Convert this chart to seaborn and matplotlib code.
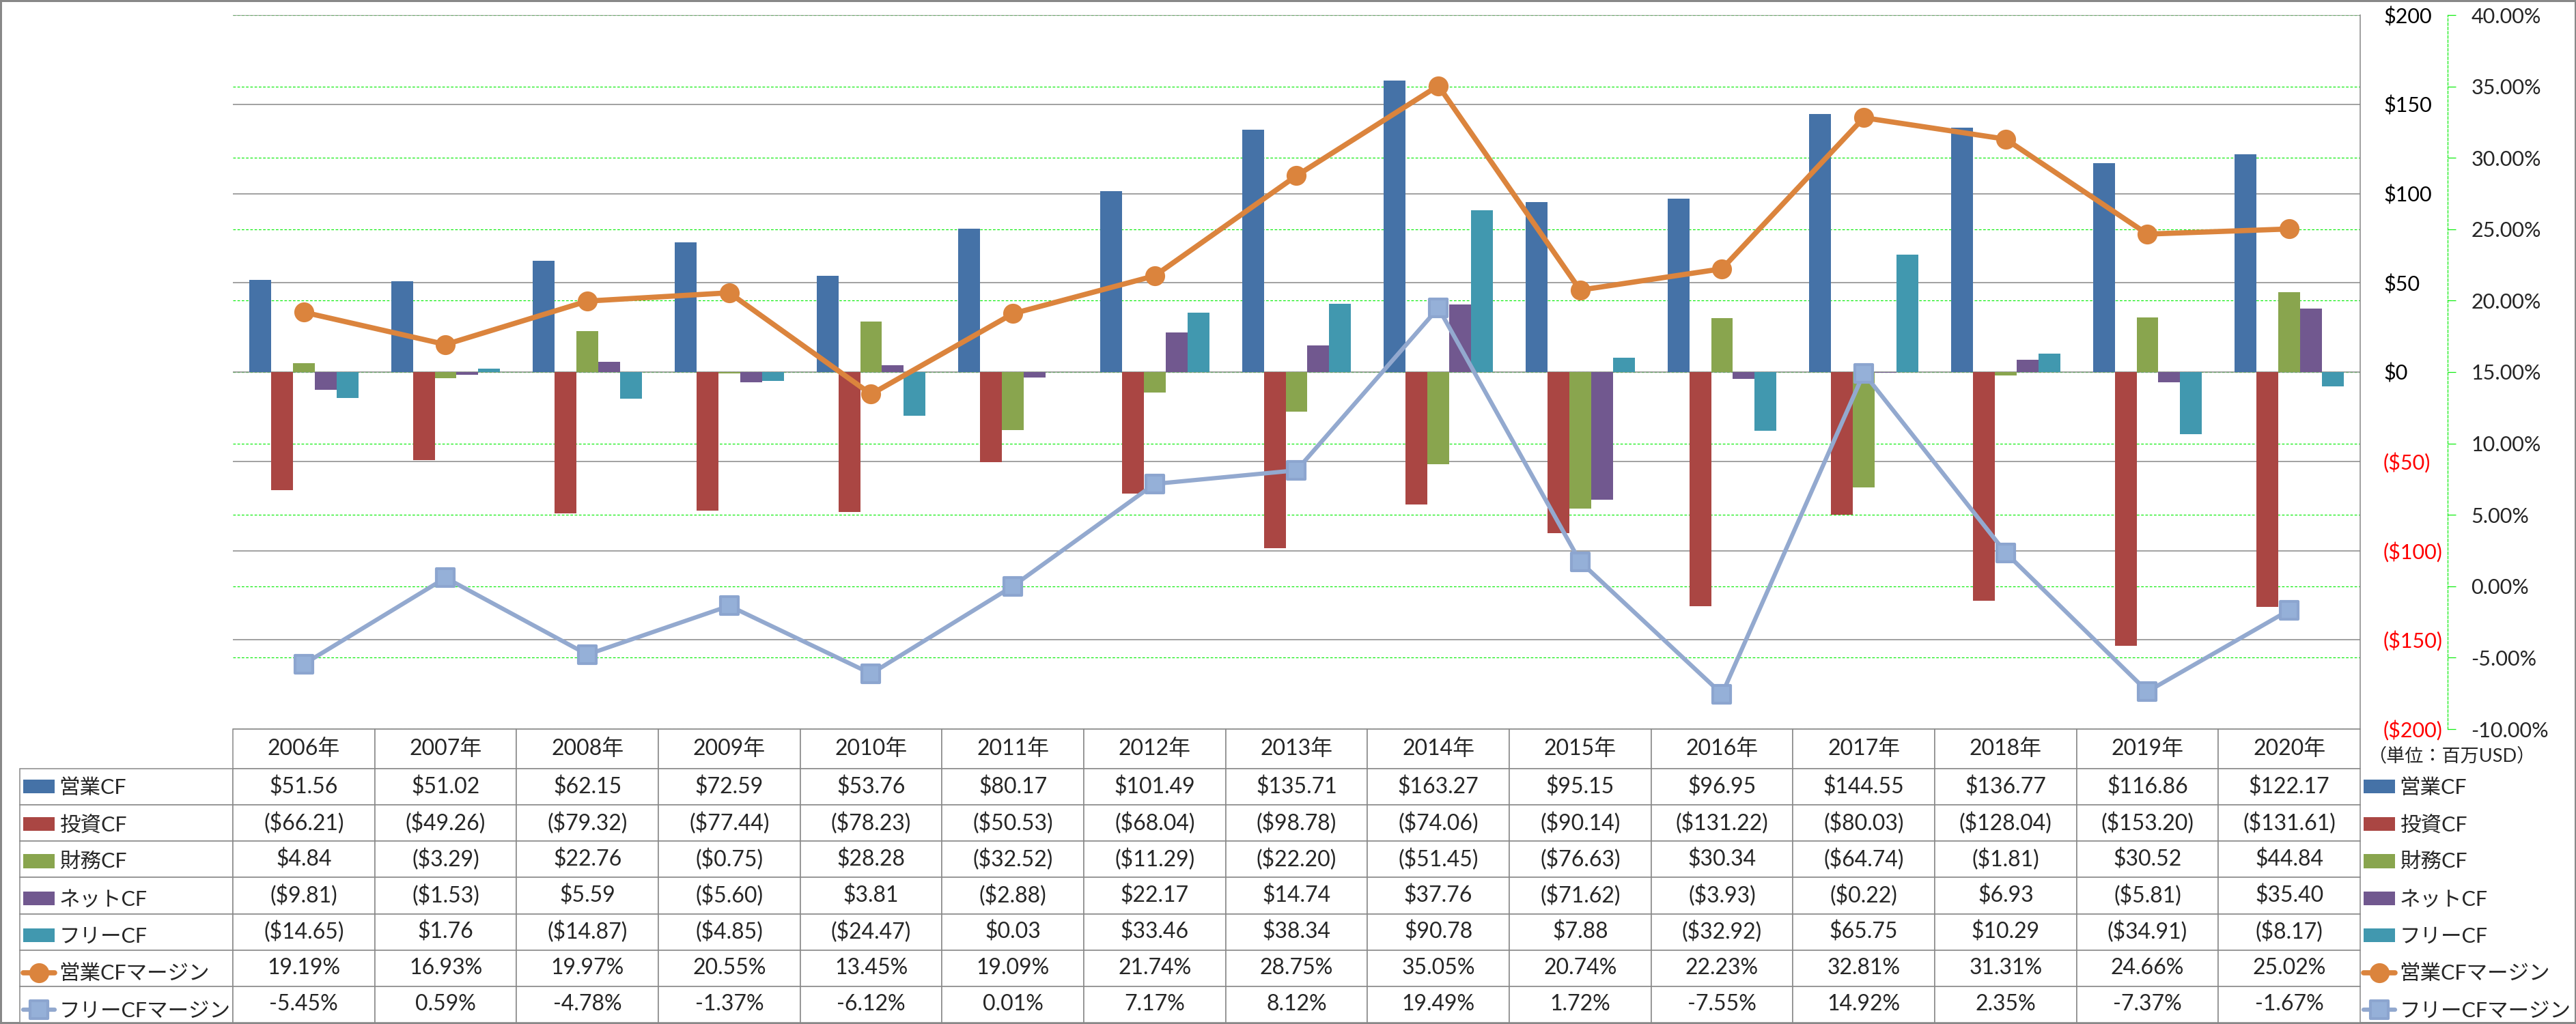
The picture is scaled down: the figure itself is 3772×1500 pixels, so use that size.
import numpy as np
import pandas as pd
import matplotlib
matplotlib.use("Agg")
import matplotlib.pyplot as plt
from matplotlib.markers import MarkerStyle
import seaborn as sns

# データ (単位: 百万USD)
years = ["2006年", "2007年", "2008年", "2009年", "2010年", "2011年", "2012年", "2013年",
         "2014年", "2015年", "2016年", "2017年", "2018年", "2019年", "2020年"]
series = ["営業CF", "投資CF", "財務CF", "ネットCF", "フリーCF"]
op_cf = [51.56, 51.02, 62.15, 72.59, 53.76, 80.17, 101.49, 135.71, 163.27, 95.15, 96.95, 144.55, 136.77, 116.86, 122.17]
inv_cf = [-66.21, -49.26, -79.32, -77.44, -78.23, -50.53, -68.04, -98.78, -74.06, -90.14, -131.22, -80.03, -128.04, -153.20, -131.61]
fin_cf = [4.84, -3.29, 22.76, -0.75, 28.28, -32.52, -11.29, -22.20, -51.45, -76.63, 30.34, -64.74, -1.81, 30.52, 44.84]
net_cf = [-9.81, -1.53, 5.59, -5.60, 3.81, -2.88, 22.17, 14.74, 37.76, -71.62, -3.93, -0.22, 6.93, -5.81, 35.40]
free_cf = [-14.65, 1.76, -14.87, -4.85, -24.47, 0.03, 33.46, 38.34, 90.78, 7.88, -32.92, 65.75, 10.29, -34.91, -8.17]
margin_names = ["営業CFマージン", "フリーCFマージン"]
op_margin = [19.19, 16.93, 19.97, 20.55, 13.45, 19.09, 21.74, 28.75, 35.05, 20.74, 22.23, 32.81, 31.31, 24.66, 25.02]
free_margin = [-5.45, 0.59, -4.78, -1.37, -6.12, 0.01, 7.17, 8.12, 19.49, 1.72, -7.55, 14.92, 2.35, -7.37, -1.67]

usd_ticks = np.arange(-200, 201, 50)
pct_ticks = np.arange(-10, 41, 5)

colors = {"営業CF": "#4572A7", "投資CF": "#AA4643", "財務CF": "#89A54E",
          "ネットCF": "#71588F", "フリーCF": "#4198AF"}
c_op = "#DB843D"
c_free = "#93A9CF"
grey = "#888888"
green = "#11EE11"

cf = dict(zip(series, [op_cf, inv_cf, fin_cf, net_cf, free_cf]))
df = (pd.DataFrame(cf, index=years).reset_index(names="年")
      .melt(id_vars="年", var_name="系列", value_name="値"))

sns.set_style("white")
plt.rcParams["font.family"] = ["Lato", "Noto Sans CJK JP"]

W, H = 3773, 1500
fig = plt.figure(figsize=(W / 100, H / 100), dpi=100)
fig.patch.set_edgecolor(grey)
fig.patch.set_linewidth(3)


def fx(px):
    return px / W


def fy(py):
    return 1 - py / H


# プロット領域
pl, pr, pt, pb = 341, 3456, 22, 1068
ax = fig.add_axes([fx(pl), fy(pb), fx(pr - pl), (pb - pt) / H])
ax_grid = ax.twinx()
ax_pct = ax.twinx()
ax_grid.set_zorder(0)
ax.set_zorder(1)
ax_pct.set_zorder(2)
ax.patch.set_visible(False)

sns.barplot(data=df, x="年", y="値", hue="系列", order=years, hue_order=series,
            palette=colors, saturation=1, width=0.77, errorbar=None,
            legend=False, linewidth=0, ax=ax)

x_pos = np.arange(len(years))
sns.lineplot(x=x_pos, y=op_margin, ax=ax_pct, color=c_op, lw=5.5, marker="o",
             markersize=21, markeredgewidth=0, legend=False, errorbar=None)
sns.lineplot(x=x_pos, y=free_margin, ax=ax_pct, color=c_free, lw=4.5,
             marker=MarkerStyle("s", joinstyle="round"), markersize=19,
             markerfacecolor="#95B0D8", markeredgecolor="#8CA5CF",
             markeredgewidth=3, legend=False, errorbar=None)

# 主軸 ($)
ax.set_ylim(-200, 200)
ax.yaxis.tick_right()
ax.set_yticks(usd_ticks, [f"${v}" if v >= 0 else f"(${-v})" for v in usd_ticks])
for lbl, v in zip(ax.get_yticklabels(), usd_ticks):
    lbl.set_color("red" if v < 0 else "black")
ax.tick_params(axis="y", length=0, pad=24.5, labelsize=22)
ax.tick_params(axis="x", length=0, labelbottom=False)
ax.yaxis.grid(True, color=grey, lw=1.1)
ax.xaxis.grid(False)
ax.set_axisbelow(True)
for s in ["left", "top", "bottom"]:
    ax.spines[s].set_visible(False)
ax.spines["right"].set_color(grey)
ax.spines["right"].set_linewidth(1.1)
ax.set_xlabel("")
ax.set_ylabel("")

# 第2軸 (%)
ax_grid.set_ylim(-10, 40)
ax_grid.set_yticks(pct_ticks, [f"{v:.2f}%" for v in pct_ticks])
for lbl, v in zip(ax_grid.get_yticklabels(), pct_ticks):
    lbl.set_color("red" if v < 0 else "black")
ax_grid.tick_params(axis="y", length=8.6, width=0.9, color=green, pad=16, labelsize=22)
ax_grid.yaxis.grid(True, color=green, lw=0.9, ls=(0, (3, 2)))
for s in ["left", "top", "bottom"]:
    ax_grid.spines[s].set_visible(False)
ax_grid.spines["right"].set_position(("outward", 92.2))
ax_grid.spines["right"].set_linestyle((0, (3, 2)))
ax_grid.spines["right"].set_color(green)
ax_grid.spines["right"].set_linewidth(0.9)

ax_pct.set_ylim(-10, 40)
ax_pct.yaxis.set_visible(False)
ax_pct.grid(False)
for s in ax_pct.spines.values():
    s.set_visible(False)
ax.set_xlim(-0.5, len(years) - 0.5)

# データテーブル
def usd(v):
    return f"${v:,.2f}" if v >= 0 else f"(${-v:,.2f})"


rows = [[usd(v) for v in cf[s]] for s in series]
rows += [[f"{v:.2f}%" for v in op_margin], [f"{v:.2f}%" for v in free_margin]]
cell_text = [[""] + r for r in rows]

tl, tb = 29, 1498
tab_ax = fig.add_axes([fx(tl), fy(tb), fx(pr - tl), (tb - pb) / H])
tab_ax.axis("off")
tab = tab_ax.table(cellText=cell_text, colLabels=[""] + years, cellLoc="center",
                   colWidths=[pl - tl] + [(pr - pl) / len(years)] * len(years),
                   bbox=[0, 0, 1, 1])
tab.auto_set_font_size(False)
tab.set_fontsize(23)
for (r, c), cell in tab.get_celld().items():
    cell.set_edgecolor(grey)
    cell.set_linewidth(1.1)
    cell.set_height(58 if r == 0 else 53.14)
tab[(0, 0)].visible_edges = ""

# 凡例 (テーブル内と右側)
handles = list(ax.containers) + list(ax_pct.lines[:2])
labels = series + margin_names
leg_kw = dict(loc="upper left", frameon=False, fontsize=22, handlelength=1.5,
              handleheight=0.65, handletextpad=0.22, labelspacing=0.86,
              borderpad=0, borderaxespad=0)
fig.legend(handles, labels, bbox_to_anchor=(fx(34), fy(1140)), **leg_kw)
fig.legend(handles, labels, bbox_to_anchor=(fx(3461), fy(1140)), **leg_kw)

fig.text(fx(3590), fy(1108), "（単位：百万USD）", ha="center", va="center", fontsize=19.5)

fig.savefig("out.png", dpi=100)
